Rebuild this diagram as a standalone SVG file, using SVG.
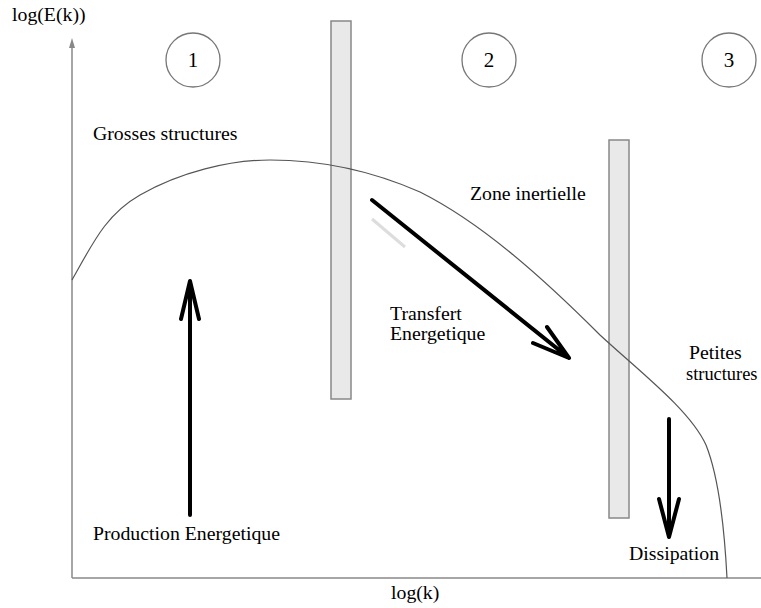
<svg xmlns="http://www.w3.org/2000/svg" width="761" height="608" viewBox="0 0 761 608">
<style>
text{font-family:"Liberation Serif","Times New Roman",serif;font-size:19.8px;fill:#000}
.num{font-size:21px;text-anchor:middle}
.bar{fill:#e9e9e9;stroke:#888;stroke-width:1.5}
.circ{fill:#fff;stroke:#777;stroke-width:1.3}
.axis{stroke:#888;stroke-width:1.5;fill:none}
.big{stroke:#000;stroke-width:4;fill:none;stroke-linecap:round;stroke-linejoin:round}
</style>
<rect width="761" height="608" fill="#fff"/>
<g id="axes">
<line class="axis" x1="72" y1="578" x2="761" y2="578"/>
<line class="axis" x1="72" y1="578" x2="72" y2="44"/>
<path d="M69,48 L72,38 L75,48 Z" fill="#888"/>
<text x="12" y="21">log(E(k))</text>
<text x="391" y="599">log(k)</text>
</g>
<g id="zone1"><circle class="circ" cx="193" cy="60" r="27"/><text class="num" x="193" y="67">1</text></g>
<g id="zone2"><circle class="circ" cx="489" cy="60" r="27"/><text class="num" x="489" y="67">2</text></g>
<g id="zone3"><circle class="circ" cx="729" cy="60" r="27"/><text class="num" x="729" y="67">3</text></g>
<g id="bar1"><rect class="bar" x="331" y="21" width="20" height="378"/></g>
<g id="bar2"><rect class="bar" x="609" y="140" width="20" height="378"/></g>
<g id="curve">
<path d="M72,280 C92,245 105,215 140,195 C180,172 230,160 270,160 C320,160 370,170 420,192 C480,222 540,275 600,335 C640,372 690,410 706,445 C718,475 724,520 727,578" fill="none" stroke="#555" stroke-width="1.2"/>
</g>
<g id="connectors">
<line x1="372" y1="219" x2="405" y2="247" stroke="#ddd" stroke-width="3"/>
<path class="big" d="M190,515 L190,281 M181,319 L190,281 L199,319"/>
<path class="big" d="M372,200 L569,358 M533,343 L569,358 L547,327"/>
<path class="big" d="M669,419 L669,537 M659,499 L669,537 L679,499"/>
</g>
<g id="labels">
<text x="93" y="140">Grosses structures</text>
<text x="470" y="200">Zone inertielle</text>
<text x="390" y="320">Transfert</text>
<text x="390" y="340">Energetique</text>
<text x="689" y="359">Petites</text>
<text x="686" y="380" style="font-size:18.4px">structures</text>
<text x="93" y="540">Production Energetique</text>
<text x="629" y="560">Dissipation</text>
</g>
</svg>
